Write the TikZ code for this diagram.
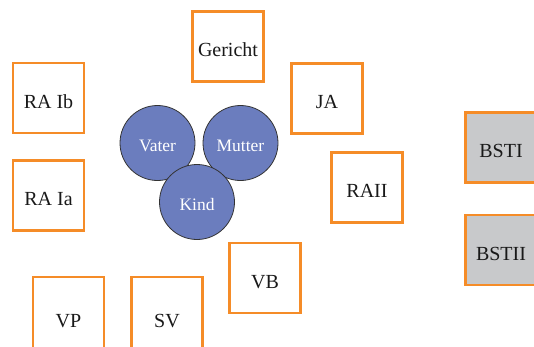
\documentclass[tikz,border=0pt]{standalone}
\usepackage{fontspec}
\setmainfont{Liberation Serif}
\definecolor{boxorange}{RGB}{245,140,40}
\definecolor{circblue}{RGB}{107,125,190}
\definecolor{boxgray}{RGB}{200,201,203}
\begin{document}
\begin{tikzpicture}[x=1pt,y=-1pt,
  sqbox/.style={draw=boxorange,line width=2.6pt,minimum width=71pt,minimum height=70pt,inner sep=0pt,text height=20pt,text depth=0pt,font=\fontsize{20}{22}\selectfont,text=black!90},
  graybox/.style={sqbox,fill=boxgray},
  person/.style={circle,draw=black!80,line width=0.8pt,fill=circblue,minimum size=75pt,inner sep=0pt,text height=16pt,text depth=0pt,text=white,font=\fontsize{17.5}{19}\selectfont}]
\useasboundingbox (0,0) rectangle (534,346);
\clip (0,0) rectangle (534,346);
\node[sqbox] (gericht) at (228,46.5) {Gericht};
\node[sqbox] (raib) at (48.5,98) {RA Ib};
\node[sqbox] (raia) at (48.5,195.5) {RA Ia};
\node[sqbox] (ja) at (327,98.5) {JA};
\node[sqbox] (raii) at (367,187.5) {RAII};
\node[graybox] (bsti) at (501,147.5) {BSTI};
\node[graybox] (bstii) at (501,250) {BSTII};
\node[sqbox,minimum height=80pt] (vp) at (68.5,317) {VP};
\node[sqbox,minimum height=80pt] (sv) at (167,317) {SV};
\node[sqbox] (vb) at (265,278) {VB};
\node[person] (vater) at (157.5,143) {Vater};
\node[person] (mutter) at (240.5,143) {Mutter};
\node[person] (kind) at (197,202) {Kind};
\end{tikzpicture}
\end{document}
